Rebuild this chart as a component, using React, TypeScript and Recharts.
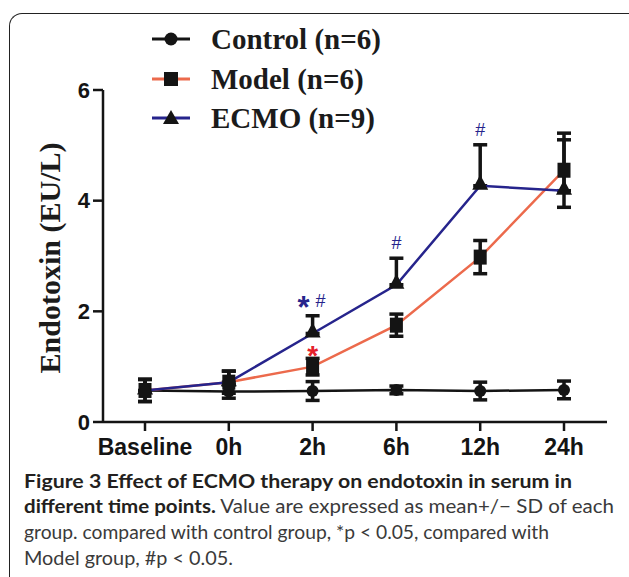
import React from "react";
import { LineChart, Line, XAxis, YAxis, ErrorBar, ReferenceDot } from "recharts";

const times = ["Baseline", "0h", "2h", "6h", "12h", "24h"];
const control = [0.57, 0.55, 0.56, 0.58, 0.56, 0.58];
const controlSd = [0.2, 0.12, 0.17, 0.07, 0.16, 0.16];
const model = [0.57, 0.72, 1.0, 1.75, 2.98, 4.55];
const modelSd = [0.2, 0.2, 0.15, 0.2, 0.3, 0.67];
const ecmo = [0.57, 0.72, 1.6, 2.48, 4.27, 4.18];
const ecmoSdUp = [0.2, 0.2, 0.32, 0.48, 0.74, 0.92];
const ecmoNotes = ["", "", "*#", "#", "#", ""];
const modelNotes = ["", "", "*", "", "", ""];
const yTicks = [0, 2, 4, 6];

const data = times.map((t, i) => ({
  time: t,
  control: control[i],
  controlErr: controlSd[i],
  model: model[i],
  modelErr: modelSd[i],
  ecmo: ecmo[i],
  ecmoErr: [0, ecmoSdUp[i]],
}));

const INK = "#141414";
const ORANGE = "#EC6A4C";
const NAVY = "#26248C";
const sans = "'Liberation Sans', Arial, sans-serif";
const xTickFont = { fontFamily: sans, fontWeight: 700, fontSize: 23, fill: INK };
const yTickFont = { fontFamily: sans, fontWeight: 700, fontSize: 22, fill: INK };

const circleDot = (p: any) => <circle key={p.index} cx={p.cx} cy={p.cy} r={6} fill={INK} />;
const squareDot = (p: any) => <rect key={p.index} x={p.cx - 6.5} y={p.cy - 7.5} width={13} height={15} fill={INK} />;
const triDot = (p: any) => (
  <polygon key={p.index} points={`${p.cx},${p.cy - 11} ${p.cx - 8},${p.cy + 4} ${p.cx + 8},${p.cy + 4}`} fill={INK} />
);

// * and # marks above the error bars
function NoteLabel(props: any) {
  const { viewBox, text, color } = props;
  if (!viewBox) return null;
  const x = viewBox.x + viewBox.width / 2;
  const y = viewBox.y + viewBox.height / 2;
  const star = text.includes("*");
  const hash = text.includes("#");
  const starX = hash ? x - 9 : x;
  const hashX = star ? x + 8 : x;
  return (
    <g>
      {star && (
        <text x={starX} y={y + (hash ? 2 : 7)} textAnchor="middle" fill={color}
          style={{ fontFamily: sans, fontWeight: 700, fontSize: hash ? 31 : 28 }}>*</text>
      )}
      {hash && (
        <text x={hashX} y={y - 9} textAnchor="middle" fill={color}
          style={{ fontFamily: sans, fontSize: 18 }}>#</text>
      )}
    </g>
  );
}

function Legend() {
  const rows = [
    { label: "Control (n=6)", color: INK, shape: "circle", y: 39 },
    { label: "Model (n=6)", color: ORANGE, shape: "square", y: 79 },
    { label: "ECMO (n=9)", color: NAVY, shape: "triangle", y: 118 },
  ];
  return (
    <>
      {rows.map((r) => (
        <g key={r.label}>
          <line x1={152} x2={190} y1={r.y} y2={r.y} stroke={r.color} strokeWidth={3} />
          {r.shape === "circle" && <circle cx={171} cy={r.y} r={6.5} fill={INK} />}
          {r.shape === "square" && <rect x={164} y={r.y - 7} width={14} height={14} fill={INK} />}
          {r.shape === "triangle" && <polygon points={`171,${r.y - 8} 163,${r.y + 6} 179,${r.y + 6}`} fill={INK} />}
          <text x={211} y={r.y + 10} fill="#1b1b1b"
            style={{ fontFamily: "'Liberation Serif', 'Times New Roman', serif", fontWeight: 700, fontSize: 29 }}>
            {r.label}
          </text>
        </g>
      ))}
    </>
  );
}

export default function App() {
  const capFont = { fontFamily: "Lato, 'Open Sans', sans-serif", fontSize: 19.5 };
  return (
    <div style={{ position: "absolute", left: 0, top: 0, width: 629, height: 577, overflow: "hidden", background: "#fff" }}>
      <div style={{
        position: "absolute", left: 9, top: 13, width: 700, height: 700,
        borderLeft: "1.5px solid #222", borderTop: "1.5px solid #222", borderTopLeftRadius: 13,
      }} />
      <div style={{ position: "absolute", left: 0, top: 0 }}>
        <LineChart width={629} height={470} data={data} margin={{ top: 90, right: 22, left: 43, bottom: 18 }}>
          <XAxis dataKey="time" padding={{ left: 42, right: 43 }} interval={0}
            tick={xTickFont} tickSize={9} tickMargin={8}
            axisLine={{ stroke: INK, strokeWidth: 2.5 }} tickLine={{ stroke: INK, strokeWidth: 2.5 }} height={30} />
          <YAxis domain={[0, 6]} ticks={yTicks} width={60}
            tick={yTickFont} tickSize={10} tickMargin={3}
            axisLine={{ stroke: INK, strokeWidth: 2.5 }} tickLine={{ stroke: INK, strokeWidth: 2.5 }} />
          <Line dataKey="control" stroke={INK} strokeWidth={2.5} dot={circleDot} activeDot={false}
            isAnimationActive={false} type="linear">
            <ErrorBar dataKey="controlErr" direction="y" width={7} strokeWidth={3.5} stroke={INK} isAnimationActive={false} />
          </Line>
          <Line dataKey="model" stroke={ORANGE} strokeWidth={2.5} dot={squareDot} activeDot={false}
            isAnimationActive={false} type="linear">
            <ErrorBar dataKey="modelErr" direction="y" width={7} strokeWidth={3.5} stroke={INK} isAnimationActive={false} />
          </Line>
          <Line dataKey="ecmo" stroke={NAVY} strokeWidth={2.5} dot={triDot} activeDot={false}
            isAnimationActive={false} type="linear">
            <ErrorBar dataKey="ecmoErr" direction="y" width={7} strokeWidth={3.5} stroke={INK} isAnimationActive={false} />
          </Line>
          {times.map((t, i) =>
            ecmoNotes[i] ? (
              <ReferenceDot key={"e" + t} x={t} y={ecmo[i] + ecmoSdUp[i]} r={0} fill="none" stroke="none"
                label={<NoteLabel text={ecmoNotes[i]} color={NAVY} />} />
            ) : null
          )}
          {times.map((t, i) =>
            modelNotes[i] ? (
              <ReferenceDot key={"m" + t} x={t} y={model[i] + modelSd[i]} r={0} fill="none" stroke="none"
                label={<NoteLabel text={modelNotes[i]} color="#E4202A" />} />
            ) : null
          )}
        </LineChart>
      </div>
      <svg width={629} height={577} style={{ position: "absolute", left: 0, top: 0, pointerEvents: "none" }}>
        <Legend />
        <text transform="translate(60,258) rotate(-90)" textAnchor="middle" fill="#1b1b1b"
          style={{ fontFamily: "'Liberation Serif', 'Times New Roman', serif", fontWeight: 700, fontSize: 30 }}>
          Endotoxin (EU/L)
        </text>
        <text x={24} y={488} textLength={548} lengthAdjust="spacingAndGlyphs" fill="#231f20" style={{ ...capFont, fontWeight: 700 }}>
          Figure 3 Effect of ECMO therapy on endotoxin in serum in
        </text>
        <text x={24} y={513} textLength={590} lengthAdjust="spacingAndGlyphs" fill="#3a3a3a" style={capFont}>
          <tspan fontWeight={700} fill="#231f20">different time points.</tspan> Value are expressed as mean+/− SD of each
        </text>
        <text x={24} y={539} textLength={525} lengthAdjust="spacingAndGlyphs" fill="#3a3a3a" style={capFont}>
          group. compared with control group, *p &lt; 0.05, compared with
        </text>
        <text x={24} y={565} textLength={209} lengthAdjust="spacingAndGlyphs" fill="#3a3a3a" style={capFont}>
          Model group, #p &lt; 0.05.
        </text>
      </svg>
    </div>
  );
}
